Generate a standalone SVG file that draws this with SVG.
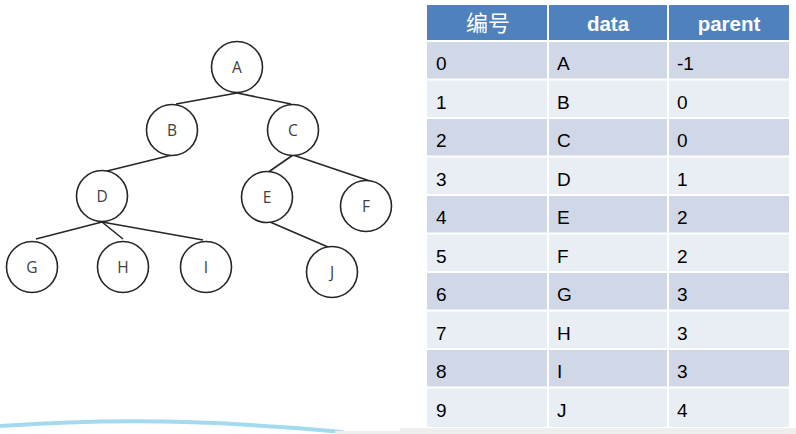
<svg xmlns="http://www.w3.org/2000/svg" width="796" height="434" viewBox="0 0 796 434">
<style>
.node circle{fill:#fff;stroke:#262626;stroke-width:1.6}
.node text{font-family:"Open Sans","Noto Sans",sans-serif;font-size:15.5px;fill:#404040;text-anchor:middle;dominant-baseline:central}
#edges line{stroke:#262626;stroke-width:1.6}
.hd{fill:#4F81BD}
.r1{fill:#D0D8E8}
.r2{fill:#E9EDF4}
.ht{font-family:"Liberation Sans","Noto Sans CJK SC",sans-serif;font-size:20.5px;font-weight:bold;fill:#fff;text-anchor:middle}
.cj{font-size:22px;font-weight:normal}
.ct{font-family:"Liberation Sans",sans-serif;font-size:19px;fill:#000}
</style>
<rect width="796" height="434" fill="#fff"/>
<g id="edges">
<line x1="237" y1="93" x2="176" y2="104"/>
<line x1="237" y1="93" x2="291" y2="104"/>
<line x1="172" y1="155" x2="103" y2="172"/>
<line x1="293" y1="155" x2="267" y2="173"/>
<line x1="293" y1="155" x2="370" y2="181"/>
<line x1="102" y1="222" x2="36" y2="239"/>
<line x1="102" y1="222" x2="123" y2="239"/>
<line x1="102" y1="222" x2="203" y2="240"/>
<line x1="270" y1="222" x2="328" y2="247"/>
</g>
<g id="nA" class="node"><circle cx="237" cy="67" r="25.5"/><text x="237" y="67">A</text></g>
<g id="nB" class="node"><circle cx="172" cy="130" r="25.5"/><text x="172" y="130">B</text></g>
<g id="nC" class="node"><circle cx="293" cy="130" r="25.5"/><text x="293" y="130">C</text></g>
<g id="nD" class="node"><circle cx="102" cy="196" r="25.5"/><text x="102" y="196">D</text></g>
<g id="nE" class="node"><circle cx="267" cy="197" r="25.5"/><text x="267" y="197">E</text></g>
<g id="nF" class="node"><circle cx="366" cy="206" r="25.5"/><text x="366" y="206">F</text></g>
<g id="nG" class="node"><circle cx="32" cy="267" r="25.5"/><text x="32" y="267">G</text></g>
<g id="nH" class="node"><circle cx="123" cy="267" r="25.5"/><text x="123" y="267">H</text></g>
<g id="nI" class="node"><circle cx="206" cy="267" r="25.5"/><text x="206" y="267">I</text></g>
<g id="nJ" class="node"><circle cx="332" cy="272" r="25.5"/><text x="332" y="272">J</text></g>
<path d="M0 426 Q130 417 250 425 T335 433" fill="none" stroke="#A3DAEE" stroke-width="4"/>
<rect x="400" y="428" width="396" height="6" fill="#EEEEEE"/>
<rect x="335" y="431" width="65" height="3" fill="#EEEEEE"/>
<g id="table">
<rect x="427" y="5" width="362" height="422" fill="#fff"/>
<rect class="hd" x="427" y="5" width="120" height="35"/>
<rect class="hd" x="549" y="5" width="118" height="35"/>
<rect class="hd" x="669" y="5" width="120" height="35"/>
<text class="ht cj" x="488" y="31">编号</text>
<text class="ht" x="608" y="31">data</text>
<text class="ht" x="729" y="31">parent</text>
<g id="rows">
<g><rect class="r1" x="427" y="42" width="120" height="36.5"/><rect class="r1" x="549" y="42" width="118" height="36.5"/><rect class="r1" x="669" y="42" width="120" height="36.5"/>
<text class="ct" x="436" y="70">0</text><text class="ct" x="557" y="70">A</text><text class="ct" x="677" y="70">-1</text></g>
<g><rect class="r2" x="427" y="80.5" width="120" height="36.5"/><rect class="r2" x="549" y="80.5" width="118" height="36.5"/><rect class="r2" x="669" y="80.5" width="120" height="36.5"/>
<text class="ct" x="436" y="108.5">1</text><text class="ct" x="557" y="108.5">B</text><text class="ct" x="677" y="108.5">0</text></g>
<g><rect class="r1" x="427" y="119" width="120" height="36.5"/><rect class="r1" x="549" y="119" width="118" height="36.5"/><rect class="r1" x="669" y="119" width="120" height="36.5"/>
<text class="ct" x="436" y="147">2</text><text class="ct" x="557" y="147">C</text><text class="ct" x="677" y="147">0</text></g>
<g><rect class="r2" x="427" y="157.5" width="120" height="36.5"/><rect class="r2" x="549" y="157.5" width="118" height="36.5"/><rect class="r2" x="669" y="157.5" width="120" height="36.5"/>
<text class="ct" x="436" y="185.5">3</text><text class="ct" x="557" y="185.5">D</text><text class="ct" x="677" y="185.5">1</text></g>
<g><rect class="r1" x="427" y="196" width="120" height="36.5"/><rect class="r1" x="549" y="196" width="118" height="36.5"/><rect class="r1" x="669" y="196" width="120" height="36.5"/>
<text class="ct" x="436" y="224">4</text><text class="ct" x="557" y="224">E</text><text class="ct" x="677" y="224">2</text></g>
<g><rect class="r2" x="427" y="234.5" width="120" height="36.5"/><rect class="r2" x="549" y="234.5" width="118" height="36.5"/><rect class="r2" x="669" y="234.5" width="120" height="36.5"/>
<text class="ct" x="436" y="262.5">5</text><text class="ct" x="557" y="262.5">F</text><text class="ct" x="677" y="262.5">2</text></g>
<g><rect class="r1" x="427" y="273" width="120" height="36.5"/><rect class="r1" x="549" y="273" width="118" height="36.5"/><rect class="r1" x="669" y="273" width="120" height="36.5"/>
<text class="ct" x="436" y="301">6</text><text class="ct" x="557" y="301">G</text><text class="ct" x="677" y="301">3</text></g>
<g><rect class="r2" x="427" y="311.5" width="120" height="36.5"/><rect class="r2" x="549" y="311.5" width="118" height="36.5"/><rect class="r2" x="669" y="311.5" width="120" height="36.5"/>
<text class="ct" x="436" y="339.5">7</text><text class="ct" x="557" y="339.5">H</text><text class="ct" x="677" y="339.5">3</text></g>
<g><rect class="r1" x="427" y="350" width="120" height="36.5"/><rect class="r1" x="549" y="350" width="118" height="36.5"/><rect class="r1" x="669" y="350" width="120" height="36.5"/>
<text class="ct" x="436" y="378">8</text><text class="ct" x="557" y="378">I</text><text class="ct" x="677" y="378">3</text></g>
<g><rect class="r2" x="427" y="388.5" width="120" height="38.5"/><rect class="r2" x="549" y="388.5" width="118" height="38.5"/><rect class="r2" x="669" y="388.5" width="120" height="38.5"/>
<text class="ct" x="436" y="416.5">9</text><text class="ct" x="557" y="416.5">J</text><text class="ct" x="677" y="416.5">4</text></g>
</g>
</g>
</svg>
